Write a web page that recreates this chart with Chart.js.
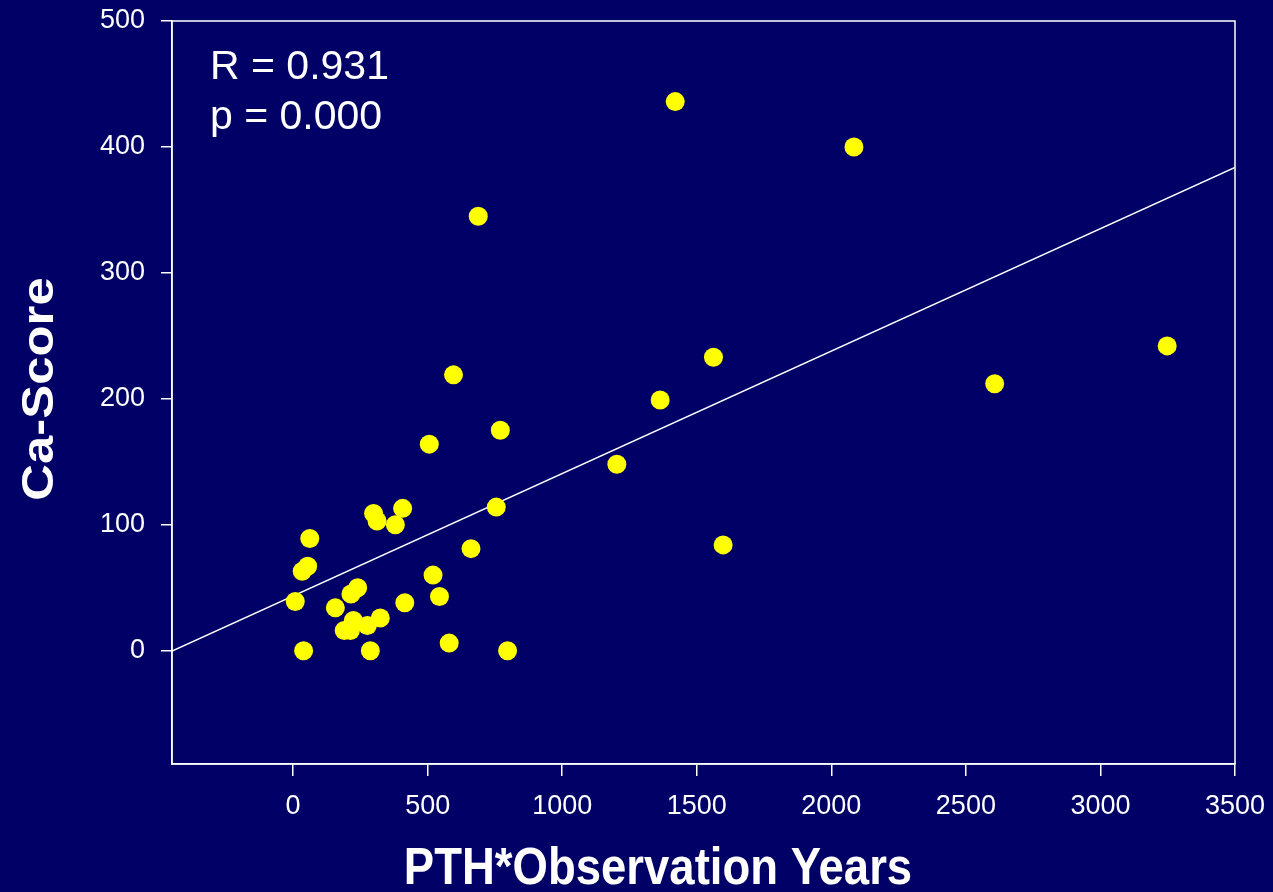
<!DOCTYPE html>
<html>
<head>
<meta charset="utf-8">
<title>Ca-Score vs PTH*Observation Years</title>
<script src="https://cdn.jsdelivr.net/npm/chart.js@4.4.1/dist/chart.umd.min.js"></script>
<style>
    html, body { margin: 0; padding: 0; background: #000066; }
    #wrap { width: 1273px; height: 892px; }
</style>
</head>
<body>
<div id="wrap"><canvas id="scatterChart"></canvas></div>
<script>
// PTH*Beobachtungsjahre und zugehöriger Ca-Score je Patient
const pthYears = [8, 39, 34, 54, 62, 157, 190, 213, 224, 215, 240, 276, 287, 299, 312, 324, 380, 407, 415,
    506, 520, 544, 580, 596, 661, 688, 755, 770, 797, 1203, 1364, 1420, 1562, 1598, 2084, 2607, 3248];
const caScores = [39, 0, 63, 67, 89, 34, 16, 16, 24, 45, 50, 20, 0, 109, 103, 26, 100, 113, 38,
    164, 60, 43, 6, 219, 81, 345, 114, 175, 0, 148, 199, 436, 233, 84, 400, 212, 242];

// Regressionsgerade
const fitIntercept = 43.5;
const fitSlope = 0.0972;
const statLines = ['R = 0.931', 'p = 0.000'];

// Achsen
const xMin = -450, xMax = 3500;
const yMin = -90, yMax = 500;
const xTicks = [0, 500, 1000, 1500, 2000, 2500, 3000, 3500];
const yTicks = [0, 100, 200, 300, 400, 500];
const xTitle = 'PTH*Observation Years';
const yTitle = 'Ca-Score';

const white = '#ffffff';
Chart.defaults.font.family = "'Liberation Sans', Arial, sans-serif";
Chart.defaults.color = white;

const points = pthYears.map((x, i) => ({ x: x, y: caScores[i] }));
const fitLine = [xMin, xMax].map(x => ({ x: x, y: fitIntercept + fitSlope * x }));

// Rahmen, R/p-Text und Achsentitel
const decorations = {
    id: 'decorations',
    afterDraw(chart) {
        const ctx = chart.ctx;
        const a = chart.chartArea;
        ctx.save();
        ctx.strokeStyle = white;
        ctx.lineWidth = 1.5;
        ctx.strokeRect(a.left, a.top, a.right - a.left, a.bottom - a.top);

        ctx.fillStyle = white;
        ctx.textAlign = 'left';
        ctx.textBaseline = 'alphabetic';
        ctx.font = "41px 'Liberation Sans', Arial, sans-serif";
        statLines.forEach((t, i) => ctx.fillText(t, a.left + 38, a.top + 58 + i * 50));

        // x-Titel etwas höher gezogen
        ctx.save();
        ctx.font = "bold 45.5px 'Liberation Sans', Arial, sans-serif";
        ctx.textAlign = 'center';
        ctx.translate(a.left + 486, chart.height - 8);
        ctx.scale(1, 1.12);
        ctx.fillText(xTitle, 0, 0);
        ctx.restore();

        ctx.translate(53, 389);
        ctx.rotate(-Math.PI / 2);
        ctx.scale(1.06, 0.93);
        ctx.font = "bold 48px 'Liberation Sans', Arial, sans-serif";
        ctx.textAlign = 'center';
        ctx.fillText(yTitle, 0, 0);
        ctx.restore();
    }
};

new Chart(document.getElementById('scatterChart'), {
    type: 'scatter',
    data: {
        datasets: [
            {
                data: points,
                backgroundColor: '#ffff00',
                borderWidth: 0,
                pointRadius: 9.5,
                pointHoverRadius: 9.5
            },
            {
                type: 'line',
                data: fitLine,
                borderColor: white,
                borderWidth: 1.5,
                pointRadius: 0,
                fill: false
            }
        ]
    },
    options: {
        responsive: true,
        maintainAspectRatio: false,
        animation: false,
        layout: { autoPadding: false, padding: { top: 21, right: 38, bottom: 0, left: 0 } },
        plugins: {
            legend: { display: false },
            tooltip: { enabled: false }
        },
        scales: {
            x: {
                type: 'linear',
                min: xMin,
                max: xMax,
                afterBuildTicks: s => { s.ticks = xTicks.map(v => ({ value: v })); },
                afterFit: s => {
                    s.height = 128;
                    s.paddingLeft = 0;
                    s.paddingRight = 0;
                },
                border: { color: white, width: 1.5 },
                grid: { drawOnChartArea: false, color: white, lineWidth: 1.5, tickLength: 12 },
                ticks: { color: white, font: { size: 27 }, padding: 14, maxRotation: 0, callback: v => String(v) }
            },
            y: {
                type: 'linear',
                min: yMin,
                max: yMax,
                afterBuildTicks: s => { s.ticks = yTicks.map(v => ({ value: v })); },
                afterFit: s => {
                    s.width = 172;
                    s.paddingTop = 0;
                    s.paddingBottom = 0;
                },
                border: { color: white, width: 1.5 },
                grid: { drawOnChartArea: false, color: white, lineWidth: 1.5, tickLength: 11 },
                ticks: { color: white, font: { size: 27 }, padding: 16, callback: v => String(v) }
            }
        }
    },
    plugins: [decorations]
});
</script>
</body>
</html>
